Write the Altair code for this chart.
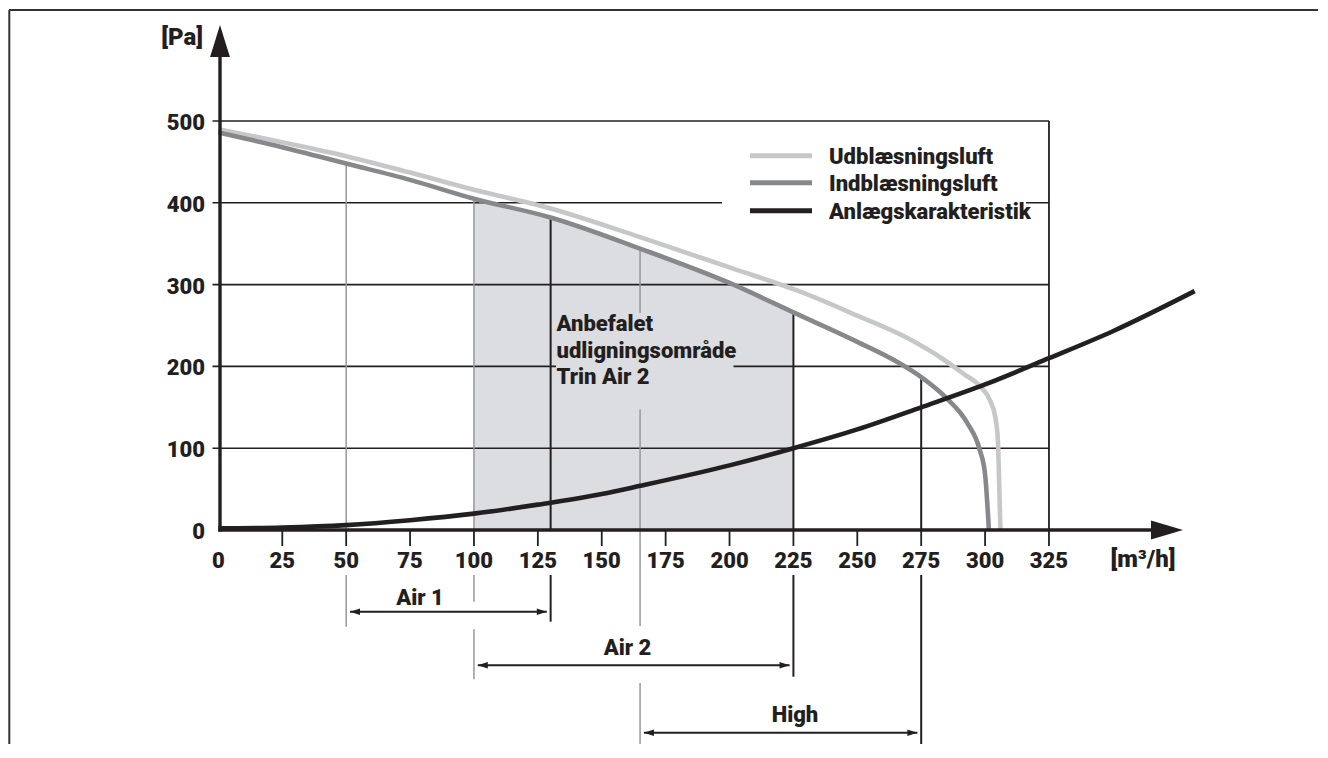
import altair as alt
import pandas as pd

# ------------------------------------------------------------------ data
x_tick_values = [0, 25, 50, 75, 100, 125, 150, 175, 200, 225, 250, 275, 300, 325]
y_tick_values = [0, 100, 200, 300, 400, 500]
x_unit = "[m³/h]"
y_unit = "[Pa]"

series_names = ["Udblæsningsluft", "Indblæsningsluft", "Anlægskarakteristik"]

udb_flow = [0, 25, 50, 75, 100, 130, 165, 200, 228, 250, 270, 283, 292, 298, 302, 304, 305, 305.5, 306]
udb_pa = [490, 474, 457, 437, 416, 393, 358, 321, 291, 262, 234, 210, 190, 176, 158, 138, 110, 60, 0]

ind_flow = [0, 25, 50, 75, 100, 130, 165, 200, 225, 250, 267, 275, 285, 293, 298, 300, 301.5]
ind_pa = [486, 468, 448, 428, 405, 382, 344, 302, 266, 230, 203, 187, 161, 131, 97, 68, 0]

anl_flow = [0, 25, 50, 75, 100, 125, 150, 165, 200, 225, 250, 275, 300, 325, 350, 382]
anl_pa = [2, 3, 6, 12, 20, 31, 44, 54, 79, 100, 123, 150, 178, 210, 243, 292]

stage_names = ["Air 1", "Air 2", "High"]
stage_from = [50, 100, 165]
stage_to = [130, 225, 275]
marker_flows = [50, 100, 130, 165, 225, 275]
shade_from, shade_to = 100, 225
box_lines = ["Anbefalet", "udligningsområde", "Trin Air 2"]

# ------------------------------------------------------------------ layout
X0, SX = 218.4, 2.5556   # page px of flow 0, px per m3/h
Y0, SY = 530.0, 0.818    # page px of 0 Pa, px per Pa
W, H = 1310, 736


def v(px):
    return (px - X0) / SX


def p(py):
    return (Y0 - py) / SY


xs = alt.Scale(domain=[v(8), v(8 + W)], nice=False, zero=False)
ys = alt.Scale(domain=[p(8 + H), p(8)], nice=False, zero=False)

DARK = "#231f20"
LIGHT = "#c6c7c9"
MID = "#86888b"
MGRAY = "#96989b"
SHADE = "#dcdde0"
FRAME = "#333333"
FONT = "Roboto"
FS = 22
FW = 900


def X(f):
    return alt.X(f, type="quantitative", scale=xs, axis=None)


def Y(f):
    return alt.Y(f, type="quantitative", scale=ys, axis=None)


def txt(align, size=FS, dy=0):
    return dict(font=FONT, fontWeight=FW, fontSize=size, color=DARK,
                align=align, baseline="middle", dy=dy)


layers = []

ind_df = pd.DataFrame({"v": ind_flow, "p": ind_pa})
udb_df = pd.DataFrame({"v": udb_flow, "p": udb_pa})
anl_df = pd.DataFrame({"v": anl_flow, "p": anl_pa})
ind_lookup = dict(zip(ind_flow, ind_pa))

# shaded recommended region
shade_df = ind_df[(ind_df.v >= shade_from) & (ind_df.v <= shade_to)].copy()
shade_df["p0"] = 0
layers.append(
    alt.Chart(shade_df).mark_area(color=SHADE, interpolate="monotone", opacity=1)
    .encode(x=X("v"), y=Y("p"), y2="p0")
)

# horizontal grid lines (with y ticks)
grid_df = pd.DataFrame({"p": [t for t in y_tick_values if t > 0]})
grid_df["x1"] = v(212.5)
grid_df["x2"] = x_tick_values[-1]
layers.append(
    alt.Chart(grid_df).mark_rule(color=DARK, strokeWidth=1.6)
    .encode(x=X("x1"), x2="x2", y=Y("p"))
)
# right border of grid
rb_df = pd.DataFrame({"v": [x_tick_values[-1]], "y1": [0], "y2": [y_tick_values[-1]]})
layers.append(
    alt.Chart(rb_df).mark_rule(color=DARK, strokeWidth=1.8)
    .encode(x=X("v"), y=Y("y1"), y2="y2")
)

# x ticks
xt_df = pd.DataFrame({"v": [t for t in x_tick_values if t > 0]})
xt_df["y1"] = p(546)
xt_df["y2"] = 0
layers.append(
    alt.Chart(xt_df).mark_rule(color=DARK, strokeWidth=1.8)
    .encode(x=X("v"), y=Y("y1"), y2="y2")
)

# marker vertical lines
gray_markers = {50, 100, 165}
below = {
    50: [(575, 626.7)],
    100: [(575, 601.7), (629.3, 679.3)],
    130: [(575, 621.7)],
    165: [(531, 626), (683, 750)],
    225: [(575, 676.7)],
    275: [(575, 748.3)],
}
rows = []
for f in marker_flows:
    col = "g" if f in gray_markers else "d"
    rows.append({"v": f, "y1": 0, "y2": ind_lookup[f], "c": col})
    for a, b in below[f]:
        rows.append({"v": f, "y1": p(a), "y2": p(b), "c": col})
mk_df = pd.DataFrame(rows)
layers.append(
    alt.Chart(mk_df[mk_df.c == "g"]).mark_rule(color=MGRAY, strokeWidth=1.5)
    .encode(x=X("v"), y=Y("y1"), y2="y2")
)
layers.append(
    alt.Chart(mk_df[mk_df.c == "d"]).mark_rule(color=DARK, strokeWidth=2)
    .encode(x=X("v"), y=Y("y1"), y2="y2")
)

# masks (text box in shaded area, legend box)
mask_df = pd.DataFrame({"x1": [v(556)], "x2": [v(733.5)], "y1": [p(313)], "y2": [p(409.5)]})
layers.append(
    alt.Chart(mask_df).mark_rect(color=SHADE, opacity=1)
    .encode(x=X("x1"), x2="x2", y=Y("y1"), y2="y2")
)
lmask_df = pd.DataFrame({"x1": [v(722)], "x2": [v(1026)], "y1": [p(140)], "y2": [p(226)]})
layers.append(
    alt.Chart(lmask_df).mark_rect(color="white", opacity=1)
    .encode(x=X("x1"), x2="x2", y=Y("y1"), y2="y2")
)

# curves
for df, col in [(udb_df, LIGHT), (ind_df, MID), (anl_df, DARK)]:
    layers.append(
        alt.Chart(df).mark_line(color=col, strokeWidth=4.6, interpolate="monotone", strokeCap="butt")
        .encode(x=X("v"), y=Y("p"))
    )

# axes
ax_df = pd.DataFrame({"x1": [v(218.4)], "x2": [v(1155)], "y": [0]})
layers.append(
    alt.Chart(ax_df).mark_rule(color=DARK, strokeWidth=3.4)
    .encode(x=X("x1"), x2="x2", y=Y("y"))
)
ay_df = pd.DataFrame({"x": [v(220)], "y1": [p(531.7)], "y2": [p(52)]})
layers.append(
    alt.Chart(ay_df).mark_rule(color=DARK, strokeWidth=3.4)
    .encode(x=X("x"), y=Y("y1"), y2="y2")
)
arx_df = pd.DataFrame({"x": [v(1183)], "y": [0]})
layers.append(
    alt.Chart(arx_df).mark_point(shape="M0,0L-2,-0.6L-2,0.6Z", filled=True, size=1024,
                                 color=DARK, opacity=1, strokeWidth=0)
    .encode(x=X("x"), y=Y("y"))
)
ary_df = pd.DataFrame({"x": [v(220)], "y": [p(25)]})
layers.append(
    alt.Chart(ary_df).mark_point(shape="M0,0L-0.62,2L0.62,2Z", filled=True, size=1024,
                                 color=DARK, opacity=1, strokeWidth=0)
    .encode(x=X("x"), y=Y("y"))
)

# tick labels
xl_df = pd.DataFrame({"v": x_tick_values, "t": [str(t) for t in x_tick_values]})
xl_df["y"] = p(561)
layers.append(
    alt.Chart(xl_df).mark_text(**txt("center"))
    .encode(x=X("v"), y=Y("y"), text="t:N")
)
yl_df = pd.DataFrame({"p": y_tick_values, "t": [str(t) for t in y_tick_values]})
yl_df["x"] = v(205)
layers.append(
    alt.Chart(yl_df).mark_text(**txt("right", dy=2))
    .encode(x=X("x"), y=Y("p"), text="t:N")
)
# unit labels
yu_df = pd.DataFrame({"x": [v(203)], "y": [p(38)], "t": [y_unit]})
layers.append(
    alt.Chart(yu_df).mark_text(**txt("right", size=24))
    .encode(x=X("x"), y=Y("y"), text="t:N")
)
xu_df = pd.DataFrame({"x": [v(1143)], "y": [p(560)], "t": [x_unit]})
layers.append(
    alt.Chart(xu_df).mark_text(**txt("center", size=24))
    .encode(x=X("x"), y=Y("y"), text="t:N")
)

# stage arrows
inset = 1.5
st_label_x = [v(420), v(627.5), v(795)]
st_label_y = [p(598), p(648), p(715)]
st_arrow_y = [p(611.7), p(665.3), p(732.7)]
st_df = pd.DataFrame({
    "name": stage_names,
    "a": [f + inset for f in stage_from],
    "b": [t - inset for t in stage_to],
    "y": st_arrow_y,
    "lx": st_label_x,
    "ly": st_label_y,
})
layers.append(
    alt.Chart(st_df).mark_rule(color=DARK, strokeWidth=2)
    .encode(x=X("a"), x2="b", y=Y("y"))
)
layers.append(
    alt.Chart(st_df).mark_point(shape="M0,0L-2,-0.65L-2,0.65Z", filled=True, size=100,
                                color=DARK, opacity=1, strokeWidth=0)
    .encode(x=X("b"), y=Y("y"))
)
layers.append(
    alt.Chart(st_df).mark_point(shape="M0,0L2,-0.65L2,0.65Z", filled=True, size=100,
                                color=DARK, opacity=1, strokeWidth=0)
    .encode(x=X("a"), y=Y("y"))
)
layers.append(
    alt.Chart(st_df).mark_text(**txt("center"))
    .encode(x=X("lx"), y=Y("ly"), text="name:N")
)

# box text
bx_df = pd.DataFrame({"t": box_lines, "y": [p(324), p(350.5), p(377)]})
bx_df["x"] = v(556.5)
layers.append(
    alt.Chart(bx_df).mark_text(**txt("left"))
    .encode(x=X("x"), y=Y("y"), text="t:N")
)

# legend
lg_df = pd.DataFrame({"name": series_names, "y": [p(155.7), p(182.7), p(210.7)],
                      "c": [LIGHT, MID, DARK]})
lg_df["x1"] = v(750)
lg_df["x2"] = v(812)
lg_df["tx"] = v(829)
layers.append(
    alt.Chart(lg_df).mark_rule(strokeWidth=5)
    .encode(x=X("x1"), x2="x2", y=Y("y"),
            color=alt.Color("c:N", scale=None))
)
layers.append(
    alt.Chart(lg_df).mark_text(**txt("left", dy=1))
    .encode(x=X("tx"), y=Y("y"), text="name:N")
)

# outer frame (top and left)
fr_top = pd.DataFrame({"x1": [v(9)], "x2": [v(1340)], "y": [p(10)]})
layers.append(
    alt.Chart(fr_top).mark_rule(color=FRAME, strokeWidth=2)
    .encode(x=X("x1"), x2="x2", y=Y("y"))
)
fr_left = pd.DataFrame({"x": [v(9.3)], "y1": [p(10)], "y2": [p(770)]})
layers.append(
    alt.Chart(fr_left).mark_rule(color=FRAME, strokeWidth=2)
    .encode(x=X("x"), y=Y("y1"), y2="y2")
)

chart = alt.layer(*layers).properties(
    width=W, height=H,
    autosize=alt.AutoSizeParams(type="none"),
    padding=0,
    background="white",
).configure_view(strokeWidth=0)

chart.save("out.html", embed_options={"renderer": "svg", "actions": False})
